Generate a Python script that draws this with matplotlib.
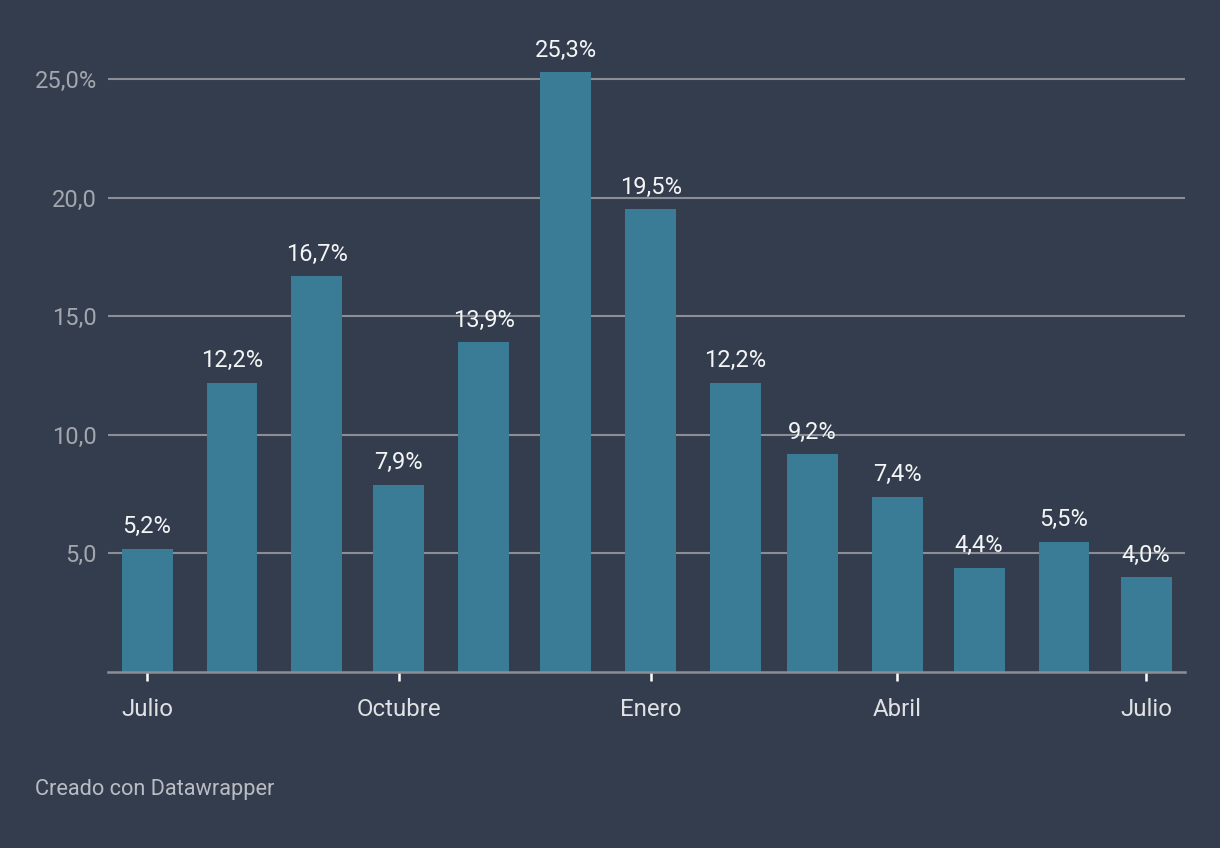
import numpy as np
import pandas as pd
import matplotlib
matplotlib.use("Agg")
import matplotlib.pyplot as plt
import matplotlib.dates as mdates

plt.rcParams["font.family"] = ["Roboto", "DejaVu Sans"]

months = pd.date_range("2022-07-01", "2023-07-01", freq="MS")
values = [5.2, 12.2, 16.7, 7.9, 13.9, 25.3, 19.5, 12.2, 9.2, 7.4, 4.4, 5.5, 4.0]
value_labels = ["5,2%", "12,2%", "16,7%", "7,9%", "13,9%", "25,3%", "19,5%",
                "12,2%", "9,2%", "7,4%", "4,4%", "5,5%", "4,0%"]
x_ticks = pd.to_datetime(["2022-07-01", "2022-10-01", "2023-01-01",
                          "2023-04-01", "2023-07-01"])
x_tick_labels = ["Julio", "Octubre", "Enero", "Abril", "Julio"]
y_ticks = [5, 10, 15, 20, 25]
y_tick_labels = ["5,0", "10,0", "15,0", "20,0", "25,0%"]

bg = "#333d4d"
bar_color = "#3a7b96"
grid_color = "#8b8f95"

fig = plt.figure(figsize=(12.2, 8.48), dpi=100, facecolor=bg)
ax = fig.add_axes([0.0885, 0.2075, 0.8828, 0.7273])
ax.set_facecolor(bg)

ax.bar(months, values, width=18.6, color=bar_color, zorder=3)

for d, v, lab in zip(months, values, value_labels):
    ax.annotate(lab, (d, v), xytext=(0, 11), textcoords="offset points",
                ha="center", va="baseline", color="#f4f5f6", fontsize=17,
                zorder=4)

ax.set_ylim(0, 26)
ax.set_xlim(months[0] - pd.Timedelta(days=14.3),
            months[-1] + pd.Timedelta(days=14.2))

ax.set_yticks(y_ticks)
ax.set_yticklabels(y_tick_labels)
ax.tick_params(axis="y", length=0, pad=8, labelsize=17, labelcolor="#a3a7ad")
ax.yaxis.grid(True, color=grid_color, linewidth=1.5, zorder=1)
ax.set_axisbelow(True)

ax.set_xticks(x_ticks)
ax.set_xticklabels(x_tick_labels)
ax.tick_params(axis="x", length=6.5, width=1.8, color="#ffffff", pad=12,
               labelsize=17.3, labelcolor="#dfe1e4")

for s in ["left", "right", "top"]:
    ax.spines[s].set_visible(False)
ax.spines["bottom"].set_color(grid_color)
ax.spines["bottom"].set_linewidth(1.8)
ax.spines["bottom"].set_zorder(5)

fig.text(35 / 1220, 1 - 790 / 848, "Creado con Datawrapper", color="#b9bdc3",
         fontsize=15.7, ha="left", va="center")

fig.savefig("out.png", dpi=100, facecolor=bg)
